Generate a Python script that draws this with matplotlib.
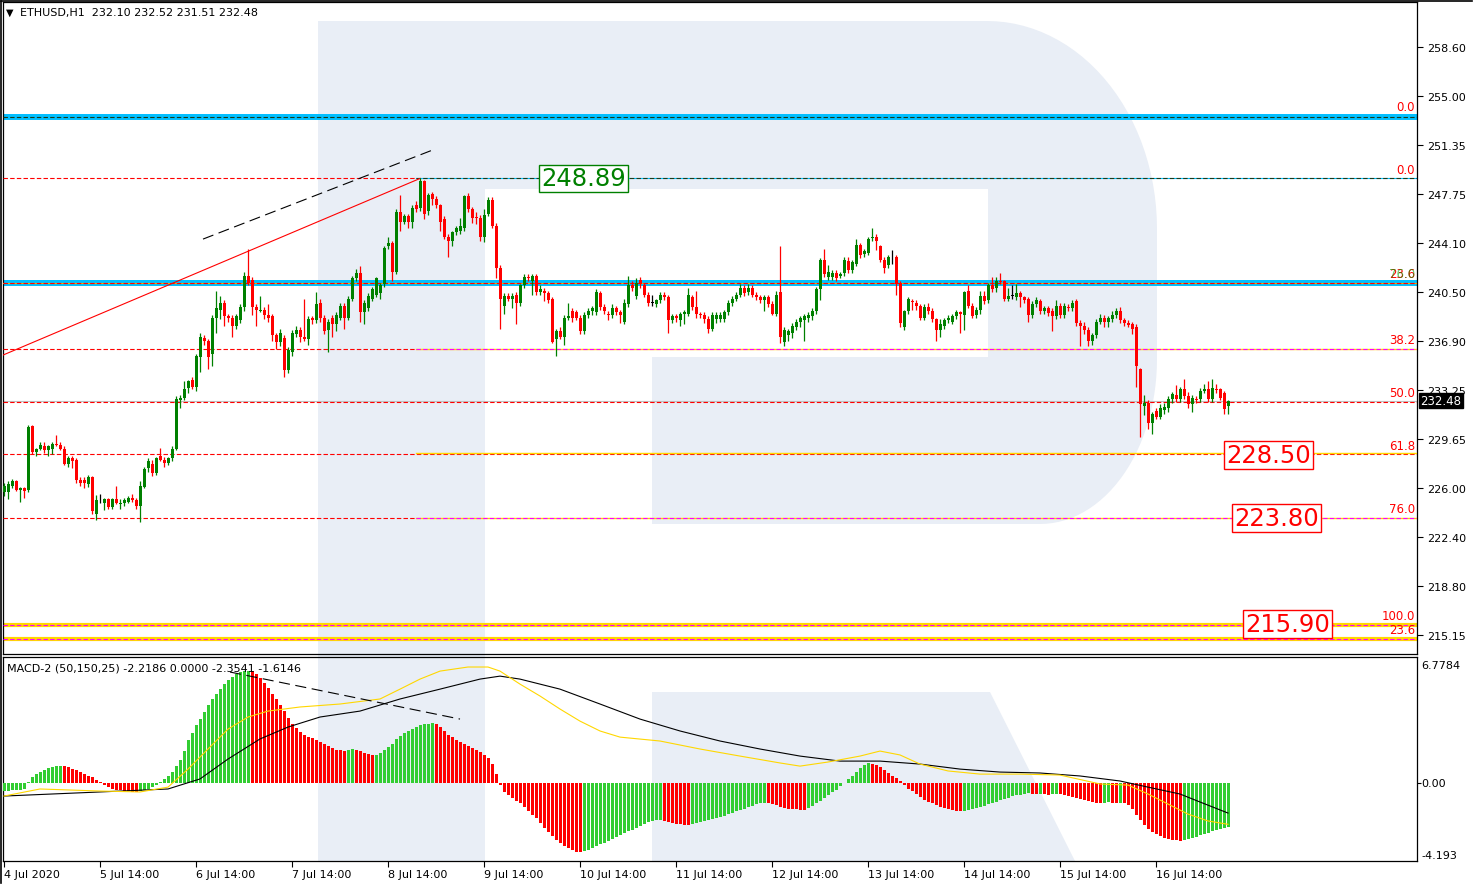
import matplotlib
matplotlib.use("Agg")
import matplotlib.pyplot as plt
import numpy as np

# ---------------- data ----------------
# hourly ETHUSD candles, bar 0 = first bar on the chart
opens = [
    225.7, 225.7, 226.2, 226.5, 225.9, 226.0, 225.9, 230.6, 228.7, 228.9,
    229.1, 228.8, 228.9, 229.3, 229.2, 228.9, 227.8, 228.2, 228.1, 226.6,
    226.6, 226.3, 226.8, 224.1, 225.1, 224.9, 225.2, 224.6, 225.2, 224.8,
    224.9, 225.0, 225.3, 225.1, 224.7, 226.1, 227.5, 227.8, 227.1, 228.4,
    228.1, 227.9, 228.2, 228.9, 232.5, 232.7, 233.4, 234.0, 233.5, 235.7,
    237.1, 236.9, 235.9, 238.6, 239.2, 239.7, 238.7, 238.6, 238.0, 238.4,
    239.4, 241.7, 241.4, 239.4, 239.1, 239.2, 238.8, 238.7, 237.3, 236.8,
    237.1, 234.7, 236.1, 237.4, 237.7, 237.2, 237.0, 238.6, 238.4, 239.7,
    238.6, 237.7, 238.6, 238.1, 238.6, 239.5, 238.6, 240.0, 241.5, 241.9,
    239.0, 239.3, 240.0, 240.3, 240.4, 241.1, 243.9, 244.1, 242.0, 246.4,
    245.7, 246.1, 245.7, 246.9, 246.7, 248.7, 246.5, 247.75, 247.4, 246.9,
    245.9, 244.6, 244.3, 244.9, 245.0, 245.2, 247.6, 246.6, 246.0, 246.0,
    244.6, 246.3, 247.3, 245.4, 242.3, 239.5, 240.2, 240.0, 240.3, 239.7,
    241.0, 241.6, 241.3, 241.7, 240.5, 240.6, 240.4, 240.0, 237.0, 237.6,
    237.2, 238.6, 239.1, 239.0, 238.6, 237.6, 238.8, 239.1, 239.0, 240.4,
    239.4, 238.9, 238.8, 239.3, 239.0, 238.3, 239.6, 241.0, 240.2, 241.4,
    241.0, 240.3, 239.7, 239.6, 239.9, 240.3, 240.1, 238.4, 238.7, 238.4,
    238.9, 238.9, 240.1, 239.4, 238.9, 238.8, 238.5, 237.8, 238.5, 238.5,
    238.5, 239.0, 239.7, 240.0, 240.3, 240.8, 240.5, 240.8, 240.3, 240.1,
    239.9, 240.1, 239.6, 238.9, 240.5, 236.8, 237.3, 237.5, 237.9, 238.3,
    238.4, 238.6, 238.7, 239.1, 240.7, 242.9, 241.6, 241.6, 241.9, 241.7,
    241.9, 242.8, 242.1, 242.6, 244.0, 243.3, 243.4, 244.5, 244.6, 243.9,
    242.9, 242.5, 243.2, 243.1, 241.2, 237.9, 239.1, 239.8, 239.7, 239.5,
    238.6, 239.4, 239.1, 238.5, 237.7, 238.0, 238.4, 238.3, 238.7, 239.0,
    238.8, 240.6, 239.5, 238.8, 239.2, 240.2, 239.9, 241.0, 240.8, 241.3,
    241.3, 240.0, 240.2, 240.1, 240.4, 240.1, 240.0, 238.8, 239.6, 239.8,
    239.1, 239.3, 239.1, 238.7, 239.5, 238.8, 239.4, 239.3, 239.8, 238.2,
    238.0, 237.7, 236.9, 237.3, 238.3, 238.6, 238.3, 238.5, 238.8, 239.1,
    238.4, 238.2, 238.1, 237.9, 234.8, 232.1, 232.3, 230.8, 231.7, 231.3,
    231.8, 231.9, 232.6, 232.9, 232.6, 233.3, 232.8, 232.2, 232.6, 232.6,
    233.2, 233.3, 232.6, 233.3, 233.3, 233.0, 232.10,
]
highs = [
    226.4, 226.5, 226.7, 226.6, 226.1, 226.1, 230.7, 230.7, 229.0, 229.4,
    229.4, 229.2, 229.4, 229.9, 229.4, 229.1, 228.4, 228.4, 228.2, 226.8,
    226.8, 227.0, 226.9, 225.5, 225.6, 225.3, 225.3, 225.3, 226.2, 225.2,
    225.3, 225.4, 225.6, 225.3, 226.5, 227.6, 228.2, 228.1, 228.3, 229.0,
    228.3, 228.3, 229.1, 232.8, 232.9, 233.9, 234.0, 234.2, 235.9, 237.5,
    237.3, 237.0, 238.8, 240.6, 240.2, 239.9, 238.9, 238.8, 238.9, 239.6,
    242.0, 243.7, 241.6, 239.6, 240.2, 239.4, 239.6, 238.9, 237.5, 237.8,
    237.3, 236.4, 237.7, 238.0, 237.9, 240.0, 238.7, 238.7, 240.5, 240.0,
    238.8, 238.5, 238.8, 239.0, 239.7, 239.7, 240.2, 241.7, 242.2, 242.4,
    239.9, 240.4, 240.9, 241.6, 241.2, 243.9, 244.6, 244.3, 246.6, 247.7,
    246.3, 246.3, 246.9, 247.2, 248.9, 248.8, 247.8, 247.9, 247.6, 247.0,
    246.1, 244.8, 245.0, 245.4, 246.0, 247.7, 247.8, 246.8, 246.4, 246.2,
    246.6, 247.5, 247.5, 245.6, 242.5, 240.4, 240.4, 240.4, 240.5, 241.1,
    241.8, 241.8, 241.8, 241.8, 241.0, 240.8, 240.6, 240.1, 237.8, 237.9,
    238.8, 239.7, 239.3, 239.2, 238.8, 239.0, 239.3, 239.5, 240.7, 240.6,
    239.6, 239.1, 239.6, 239.5, 239.2, 240.0, 241.7, 241.3, 241.5, 241.6,
    241.2, 240.5, 240.3, 240.0, 240.5, 240.5, 240.3, 238.9, 238.9, 239.0,
    239.2, 240.8, 240.3, 240.6, 239.0, 239.0, 238.7, 239.0, 239.0, 239.0,
    239.2, 239.9, 240.2, 240.5, 241.1, 241.0, 241.1, 241.0, 240.5, 240.3,
    240.3, 240.3, 239.8, 240.6, 243.9, 237.9, 237.8, 238.2, 238.5, 238.7,
    238.9, 239.0, 239.3, 240.9, 243.0, 243.7, 242.5, 242.1, 242.1, 242.0,
    243.1, 243.1, 242.9, 244.4, 244.1, 243.7, 244.6, 245.2, 244.8, 244.0,
    243.1, 243.2, 243.6, 243.2, 241.3, 239.2, 240.1, 240.0, 239.9, 239.6,
    239.6, 239.7, 239.3, 238.6, 238.5, 238.6, 238.8, 238.9, 239.2, 239.1,
    240.6, 241.0, 239.7, 239.4, 240.6, 240.6, 241.2, 241.6, 241.6, 241.9,
    241.4, 240.8, 241.0, 241.1, 240.6, 240.2, 240.1, 239.8, 240.1, 240.0,
    239.5, 239.5, 239.3, 239.9, 239.7, 239.7, 239.6, 239.9, 240.0, 238.4,
    238.3, 237.9, 237.5, 238.5, 238.9, 238.8, 238.7, 239.1, 239.3, 239.4,
    238.6, 238.4, 238.3, 238.1, 234.9, 232.9, 232.5, 231.6, 231.9, 232.2,
    232.3, 232.8, 233.1, 233.6, 233.5, 234.1, 233.1, 232.9, 232.8, 233.4,
    233.7, 233.9, 234.1, 233.7, 233.4, 233.2, 232.52,
]
lows = [
    225.4, 225.2, 226.0, 225.8, 225.0, 225.3, 225.7, 228.5, 228.4, 228.8,
    228.6, 228.4, 228.5, 229.1, 228.8, 227.7, 227.6, 227.5, 226.4, 226.2,
    226.0, 226.1, 224.1, 223.65, 224.9, 224.4, 224.5, 224.5, 224.8, 224.5,
    224.7, 224.9, 225.0, 224.5, 223.5, 226.0, 227.2, 226.9, 227.0, 228.0,
    227.6, 227.7, 228.0, 228.8, 231.9, 232.5, 233.0, 233.3, 233.2, 234.6,
    236.6, 234.8, 235.0, 237.5, 238.5, 238.0, 238.3, 237.2, 237.8, 238.2,
    239.1, 241.0, 238.8, 238.0, 239.0, 238.5, 238.3, 236.9, 236.3, 236.5,
    234.2, 234.5, 235.8, 237.2, 236.8, 236.9, 236.6, 238.1, 238.2, 238.3,
    237.4, 236.1, 237.2, 237.6, 238.4, 237.8, 238.4, 239.8, 241.3, 238.3,
    238.1, 239.1, 239.8, 240.1, 240.0, 240.9, 243.7, 241.3, 241.8, 245.0,
    245.5, 245.2, 245.2, 246.4, 246.5, 245.9, 246.2, 246.9, 246.7, 245.0,
    244.4, 243.1, 243.9, 244.7, 244.8, 245.0, 246.4, 245.6, 245.5, 244.3,
    244.2, 246.1, 245.2, 241.5, 237.8, 238.9, 239.8, 239.3, 238.1, 239.5,
    240.8, 241.3, 240.3, 240.3, 240.3, 239.8, 239.7, 236.7, 235.8, 237.0,
    236.6, 238.4, 238.3, 238.4, 237.4, 237.4, 238.6, 238.8, 238.8, 239.2,
    238.9, 238.4, 238.6, 238.8, 238.2, 238.1, 239.4, 240.6, 240.0, 240.8,
    240.1, 239.5, 239.5, 239.4, 239.7, 239.9, 237.5, 238.2, 238.3, 238.0,
    238.1, 238.7, 239.2, 238.6, 238.6, 238.2, 237.5, 237.6, 238.2, 238.3,
    238.3, 238.8, 239.5, 239.8, 240.1, 240.2, 240.3, 240.1, 239.9, 239.7,
    239.1, 239.4, 238.8, 238.7, 236.7, 236.5, 236.9, 237.1, 237.7, 237.9,
    236.9, 238.3, 238.4, 238.9, 239.9, 241.6, 241.4, 241.4, 241.3, 241.5,
    241.7, 241.9, 241.9, 242.4, 243.0, 243.1, 243.2, 244.3, 243.6, 242.7,
    241.9, 242.3, 242.6, 240.3, 237.9, 237.7, 238.9, 239.2, 239.2, 238.4,
    238.4, 238.9, 238.3, 236.9, 237.2, 237.8, 238.2, 238.1, 238.5, 237.5,
    237.7, 239.3, 238.6, 238.6, 238.9, 239.6, 239.7, 240.5, 240.5, 241.1,
    239.8, 239.8, 240.0, 239.9, 239.4, 239.7, 238.3, 238.6, 239.4, 238.9,
    238.9, 238.7, 237.6, 238.5, 238.6, 238.6, 239.1, 239.1, 238.0, 236.5,
    237.4, 236.5, 236.6, 237.1, 238.1, 237.9, 237.9, 238.3, 238.6, 238.2,
    238.0, 237.9, 237.4, 233.5, 229.8, 231.4, 230.4, 230.0, 231.1, 231.1,
    231.5, 231.6, 232.3, 232.4, 232.4, 232.6, 231.9, 231.6, 232.3, 232.4,
    233.0, 232.4, 232.4, 233.0, 232.5, 231.5, 231.51,
]
closes = [
    226.2, 226.3, 226.5, 225.9, 226.0, 225.8, 230.5, 228.7, 228.9, 229.2,
    228.8, 229.1, 229.3, 229.2, 228.9, 227.8, 228.2, 228.0, 226.6, 226.4,
    226.4, 226.8, 224.3, 225.1, 225.1, 225.2, 224.6, 225.2, 224.9, 224.9,
    225.1, 225.3, 225.1, 224.7, 226.2, 227.4, 228.0, 227.1, 228.2, 228.1,
    227.9, 228.2, 228.9, 232.6, 232.7, 233.3, 233.9, 233.5, 235.8, 237.2,
    236.9, 235.7, 238.6, 239.3, 239.7, 238.7, 238.6, 238.0, 238.7, 239.4,
    241.7, 241.2, 239.4, 239.2, 239.2, 238.8, 238.6, 237.3, 236.8, 237.5,
    234.7, 236.2, 237.5, 237.7, 237.2, 237.0, 238.5, 238.4, 239.6, 238.6,
    237.6, 238.3, 238.1, 238.8, 239.5, 238.6, 240.0, 241.5, 241.9, 239.0,
    239.7, 240.2, 240.7, 241.5, 241.0, 243.75, 244.1, 242.0, 246.4, 245.7,
    246.1, 245.7, 246.7, 246.6, 248.7, 246.3, 247.7, 247.4, 246.9, 245.7,
    244.6, 244.3, 244.9, 245.2, 245.4, 247.6, 246.6, 246.0, 245.95, 244.6,
    246.2, 247.3, 245.4, 242.3, 239.98, 240.2, 240.0, 240.2, 239.7, 241.0,
    241.6, 241.5, 241.7, 240.5, 240.7, 240.4, 239.9, 236.8, 237.6, 237.2,
    238.6, 238.7, 238.6, 238.6, 237.6, 238.8, 239.1, 239.3, 240.5, 239.4,
    239.1, 238.8, 239.3, 239.0, 238.8, 239.7, 241.0, 240.8, 241.2, 241.1,
    240.3, 239.7, 239.7, 239.9, 240.3, 240.1, 238.4, 238.7, 238.6, 238.9,
    239.0, 240.3, 239.4, 238.9, 238.8, 238.5, 237.8, 238.8, 238.8, 238.8,
    239.0, 239.7, 240.0, 240.3, 240.8, 240.4, 240.8, 240.3, 240.1, 239.9,
    240.1, 239.6, 238.9, 240.3, 237.2, 237.7, 237.6, 238.0, 238.3, 238.6,
    238.7, 238.8, 239.1, 240.7, 242.9, 241.8, 242.0, 241.9, 241.5, 241.85,
    242.9, 242.1, 242.7, 244.0, 243.2, 243.5, 244.4, 244.6, 244.3, 242.9,
    242.3, 243.1, 243.2, 241.1, 238.2, 239.1, 240.0, 239.75, 239.45, 238.6,
    239.4, 239.1, 238.5, 237.7, 238.1, 238.4, 238.6, 238.7, 239.0, 238.85,
    240.5, 239.5, 238.7, 239.2, 240.2, 239.8, 241.0, 240.7, 241.3, 241.25,
    240.0, 240.2, 240.2, 240.4, 240.1, 239.9, 238.8, 239.6, 239.9, 239.1,
    239.3, 238.95, 238.7, 239.5, 238.8, 239.5, 239.3, 239.7, 238.2, 238.0,
    237.7, 236.9, 237.3, 238.3, 238.6, 238.25, 238.6, 238.8, 239.1, 238.4,
    238.2, 238.05, 237.8, 235.0, 232.2, 232.3, 230.8, 231.5, 231.3, 231.9,
    232.0, 232.6, 232.95, 232.6, 233.3, 232.8, 232.2, 232.7, 232.55, 233.2,
    233.3, 232.6, 233.4, 233.25, 232.7, 231.85, 232.48,
]

# MACD-2 histogram, one value per bar
macd_hist = [
    -0.45, -0.42, -0.40, -0.38, -0.36, -0.33, 0.05, 0.30, 0.50, 0.62,
    0.72, 0.80, 0.86, 0.90, 0.93, 0.90, 0.85, 0.78, 0.70, 0.60,
    0.50, 0.40, 0.30, 0.15, 0.05, -0.10, -0.20, -0.30, -0.35, -0.40,
    -0.42, -0.45, -0.47, -0.50, -0.45, -0.40, -0.30, -0.20, -0.10, 0.05,
    0.20, 0.40, 0.60, 0.90, 1.25, 1.70, 2.30, 2.70, 3.10, 3.45,
    3.80, 4.20, 4.50, 4.80, 5.05, 5.30, 5.55, 5.70, 5.85, 5.95,
    6.00, 6.05, 6.00, 5.85, 5.65, 5.40, 5.10, 4.80, 4.50, 4.20,
    3.85, 3.50, 3.20, 2.95, 2.75, 2.60, 2.50, 2.40, 2.30, 2.20,
    2.10, 2.00, 1.90, 1.80, 1.75, 1.70, 1.75, 1.85, 1.80, 1.70,
    1.60, 1.55, 1.50, 1.52, 1.60, 1.80, 1.95, 2.10, 2.35, 2.55,
    2.70, 2.80, 2.90, 3.00, 3.10, 3.15, 3.20, 3.22, 3.15, 3.00,
    2.80, 2.60, 2.45, 2.30, 2.20, 2.10, 2.00, 1.90, 1.80, 1.65,
    1.50, 1.35, 1.00, 0.50, -0.10, -0.50, -0.65, -0.80, -0.95, -1.10,
    -1.30, -1.50, -1.70, -1.90, -2.15, -2.40, -2.65, -2.85, -3.05, -3.25,
    -3.40, -3.52, -3.62, -3.70, -3.72, -3.68, -3.60, -3.50, -3.40, -3.30,
    -3.20, -3.10, -3.00, -2.90, -2.80, -2.70, -2.60, -2.50, -2.40, -2.30,
    -2.20, -2.12, -2.05, -2.00, -1.97, -2.02, -2.10, -2.15, -2.20, -2.22,
    -2.24, -2.25, -2.20, -2.15, -2.10, -2.05, -2.00, -1.95, -1.90, -1.82,
    -1.75, -1.68, -1.60, -1.52, -1.45, -1.38, -1.30, -1.22, -1.15, -1.10,
    -1.08, -1.10, -1.15, -1.20, -1.30, -1.35, -1.38, -1.40, -1.42, -1.43,
    -1.44, -1.35, -1.25, -1.10, -0.95, -0.80, -0.65, -0.50, -0.35, -0.18,
    0.00, 0.20, 0.40, 0.60, 0.80, 0.95, 1.10, 1.05, 0.95, 0.85,
    0.70, 0.55, 0.40, 0.25, 0.10, -0.10, -0.30, -0.45, -0.60, -0.75,
    -0.90, -1.00, -1.10, -1.20, -1.28, -1.35, -1.40, -1.45, -1.48, -1.50,
    -1.48, -1.45, -1.40, -1.35, -1.30, -1.22, -1.15, -1.08, -1.00, -0.92,
    -0.85, -0.78, -0.72, -0.66, -0.62, -0.58, -0.55, -0.57, -0.60, -0.58,
    -0.60, -0.62, -0.60, -0.58, -0.60, -0.65, -0.70, -0.75, -0.80, -0.85,
    -0.90, -0.95, -1.00, -1.05, -1.08, -1.05, -1.02, -1.05, -1.08, -1.05,
    -1.10, -1.20, -1.40, -1.70, -2.00, -2.25, -2.45, -2.62, -2.75, -2.85,
    -2.93, -3.00, -3.05, -3.08, -3.10, -3.05, -3.00, -2.95, -2.90, -2.82,
    -2.75, -2.68, -2.60, -2.52, -2.46, -2.40, -2.3541,
]

# MACD-2 lines, vertices (bar index, value)
black_idx = [0, 24, 41, 49, 56, 64, 71, 79, 89, 99, 109, 119, 124, 129, 139, 149,
             159, 169, 179, 189, 199, 209, 219, 229, 239, 249, 259, 269, 279, 286,
             294, 299, 306]
black_val = [-0.70, -0.48, -0.32, 0.22, 1.29, 2.37, 3.01, 3.55, 3.87, 4.52, 5.05,
             5.59, 5.75, 5.59, 5.05, 4.25, 3.44, 2.80, 2.26, 1.83, 1.45, 1.18, 1.18,
             1.02, 0.75, 0.59, 0.54, 0.38, 0.11, -0.22, -0.59, -1.02, -1.6146]
yellow_idx = [0, 9, 24, 34, 41, 46, 51, 56, 61, 66, 74, 84, 94, 99, 104, 109, 116,
              121, 124, 129, 134, 139, 144, 149, 154, 164, 174, 184, 194, 199, 206,
              214, 219, 224, 229, 236, 244, 254, 264, 274, 281, 286, 291, 296, 301, 306]
yellow_val = [-0.70, -0.32, -0.43, -0.48, -0.22, 0.75, 1.83, 2.90, 3.55, 3.87, 4.09,
              4.25, 4.52, 5.05, 5.59, 6.02, 6.24, 6.24, 6.02, 5.32, 4.68, 3.98, 3.33,
              2.80, 2.47, 2.26, 1.83, 1.45, 1.08, 0.91, 1.13, 1.45, 1.72, 1.51, 1.02,
              0.65, 0.48, 0.48, 0.43, -0.05, -0.11, -0.59, -1.13, -1.67, -2.04, -2.2186]

# axis labels
price_ticks = [258.60, 255.00, 251.35, 247.75, 244.10, 240.50, 236.90, 233.25,
               229.65, 226.00, 222.40, 218.80, 215.15]
time_labels = ["4 Jul 2020", "5 Jul 14:00", "6 Jul 14:00", "7 Jul 14:00", "8 Jul 14:00",
               "9 Jul 14:00", "10 Jul 14:00", "11 Jul 14:00", "12 Jul 14:00",
               "13 Jul 14:00", "14 Jul 14:00", "15 Jul 14:00", "16 Jul 14:00"]

# fibonacci / support levels
fib_a_levels = [248.89, 236.29, 232.395, 228.50, 223.80]   # red dotted from the left
fib_a_names = ["0.0", "38.2", "50.0", "61.8", "76.0"]
last_price = 232.48

# ---------------- figure ----------------
W, H = 1474, 887
fig = plt.figure(figsize=(W / 100, H / 100), dpi=100)
fig.patch.set_facecolor("white")
plt.rcParams["font.family"] = ["DejaVu Sans"]

# watermark in pixel coordinates behind the chart
bg = fig.add_axes([0, 0, 1, 1], zorder=0)
bg.set_xlim(0, W)
bg.set_ylim(H, 0)
bg.axis("off")
wm = "#E9EEF6"
t1 = np.linspace(np.pi / 2, 0, 30)
t2 = np.linspace(0, -np.pi / 2, 30)
arc1 = np.c_[987 + 170 * np.cos(t1), 230 - 208 * np.sin(t1)]
arc2 = np.c_[1040 + 117 * np.cos(t2), 360 - 165 * np.sin(t2)]
outline = np.vstack([[[318, 22]], arc1, arc2,
                     [[652, 525], [652, 358], [988, 358], [988, 190], [485, 190],
                      [485, 862], [318, 862]]])
bg.fill(outline[:, 0], outline[:, 1], color=wm, lw=0)
bg.fill([652, 990, 1075, 652], [693, 693, 862, 862], color=wm, lw=0)
bg.plot([1, 1], [2, 884], color="black", lw=1.2)
bg.plot([1, 1472], [2, 2], color="black", lw=1.2)

# x of bar i: 4 + 4*i px; chart spans 3..1417 px
x0, x1 = -0.25, 353.25
ax = fig.add_axes([3 / W, (H - 655) / H, 1414 / W, 652 / H], zorder=2)
ax.patch.set_alpha(0)
ax.set_xlim(x0, x1)
ax.set_ylim(213.75, 261.93)

n = len(closes)
idx = np.arange(n)
o = np.array(opens)
c = np.array(closes)
hi = np.array(highs)
lo = np.array(lows)
col = np.where(c > o, "#008000", np.where(c < o, "#FF0000", "black"))

ax.vlines(idx, lo, hi, colors=col, lw=0.9, zorder=5)
ax.bar(idx, np.maximum(np.abs(c - o), 0.06), bottom=np.minimum(o, c), width=0.75,
       color=col, lw=0, zorder=6)

# horizontal levels
full = [x0, x1]
right = [103, x1]
left = [x0, 103]
ax.plot(full, [253.43] * 2, color="#00BFFF", lw=4.3, zorder=2)
ax.plot(full, [253.43] * 2, color="#1a3a1a", lw=0.8, dashes=(4, 2), zorder=3)
ax.plot(full, [241.16] * 2, color="#00BFFF", lw=4.3, zorder=2)
ax.plot(full, [241.16] * 2, color="#FFA500", lw=0.8, zorder=3)
ax.plot(full, [241.16] * 2, color="#FF0000", lw=0.8, dashes=(4, 2), zorder=3)
for lvl in [215.90, 214.86]:
    ax.plot(full, [lvl] * 2, color="#FFD700", lw=3.0, zorder=2)
    ax.plot(full, [lvl] * 2, color="#FF00FF", lw=0.8, dashes=(4, 2), zorder=3)

ax.plot(full, [last_price] * 2, color="#C0C0C0", lw=0.8, zorder=2)
for lvl in fib_a_levels:
    if lvl in (232.395, 228.50):
        ax.plot(full, [lvl] * 2, color="#FF0000", lw=0.8, dashes=(4, 2), zorder=3)
    else:
        ax.plot(left, [lvl] * 2, color="#FF0000", lw=0.8, dashes=(4, 2), zorder=3)
ax.plot(right, [248.89] * 2, color="#00BFFF", lw=0.8, zorder=3)
ax.plot(right, [248.89] * 2, color="#1a3a1a", lw=0.8, dashes=(4, 2), zorder=3)
for lvl in [236.29, 223.80, 228.60]:
    ax.plot(right, [lvl] * 2, color="#FFD700", lw=1.0, zorder=3)
for lvl in [236.29, 223.80]:
    ax.plot(right, [lvl] * 2, color="#FF00FF", lw=0.8, dashes=(4, 2), zorder=3)

# level captions at the right edge
cap = dict(ha="right", va="bottom", fontsize=8.5, color="#FF0000", zorder=8)
ax.text(352.8, 253.7, "0.0", **cap)
ax.text(352.8, 249.1, "0.0", **cap)
ax.text(352.8, 241.4, "23.6", **cap)
ax.text(352.8, 241.4, "76.0", ha="right", va="bottom", fontsize=8.5, color="#00A000",
        alpha=0.6, zorder=8)
for lvl, name in zip(fib_a_levels[1:], fib_a_names[1:]):
    ax.text(352.8, lvl + 0.2, name, **cap)
ax.text(352.8, 216.1, "100.0", **cap)
ax.text(352.8, 215.1, "23.6", **cap)

# trend lines
ax.plot([x0, 104], [235.84, 248.89], color="#FF0000", lw=0.8, zorder=4)
ax.plot([49.75, 107.75], [244.41, 251.06], color="black", lw=0.8, dashes=(10, 5), zorder=4)

# boxed price captions
box = dict(boxstyle="square,pad=0.08", fc="white", lw=1)
ax.text(134.3, 248.89, "248.89", fontsize=17.5, color="#008000", ha="left", va="center",
        bbox=dict(box, ec="#008000"), zorder=9)
ax.text(305.5, 228.45, "228.50", fontsize=17.5, color="#FF0000", ha="left", va="center",
        bbox=dict(box, ec="#FF0000"), zorder=9)
ax.text(307.5, 223.80, "223.80", fontsize=17.5, color="#FF0000", ha="left", va="center",
        bbox=dict(box, ec="#FF0000"), zorder=9)
ax.text(310.3, 215.95, "215.90", fontsize=17.5, color="#FF0000", ha="left", va="center",
        bbox=dict(box, ec="#FF0000"), zorder=9)

# price axis on the right
ax.yaxis.tick_right()
ax.set_yticks(price_ticks)
ax.set_yticklabels([f"{p:.2f}" for p in price_ticks], fontsize=8)
ax.tick_params(axis="y", direction="out", length=4, width=0.8, pad=3)
ax.set_xticks([])
for s in ax.spines.values():
    s.set_linewidth(0.9)
ax.text(1.0025, last_price, f"{last_price:.2f}", transform=ax.get_yaxis_transform(),
        fontsize=8.5, color="white", va="center", ha="left",
        bbox=dict(boxstyle="square,pad=0.12", fc="black", ec="black"), zorder=10,
        clip_on=False)

fig.text(6 / W, 1 - 13 / H, "\u25bc", fontsize=7, va="center", ha="left")
fig.text(20 / W, 1 - 13 / H, "ETHUSD,H1  232.10 232.52 231.51 232.48", fontsize=8,
         va="center", ha="left")

# ---------------- MACD panel ----------------
mx = fig.add_axes([3 / W, (H - 862) / H, 1414 / W, 204 / H], zorder=2)
mx.patch.set_alpha(0)
mx.set_xlim(x0, x1)
mx.set_ylim(-4.193, 6.7784)
hv = np.array(macd_hist)
rising = np.r_[True, hv[1:] >= hv[:-1]]
mx.bar(idx, hv, width=0.75, color=np.where(rising, "#32CD32", "#FF0000"), lw=0, zorder=3)
mx.plot(black_idx, black_val, color="black", lw=0.8, zorder=4)
mx.plot(yellow_idx, yellow_val, color="#FFD700", lw=0.8, zorder=4)
mx.plot([56.5, 114], [5.97, 3.44], color="black", lw=0.8, dashes=(10, 5), zorder=4)

mx.yaxis.tick_right()
mx.set_yticks([0])
mx.set_yticklabels([])
mx.tick_params(axis="y", direction="out", length=3, width=0.8)
mx.text(1.003, 6.35, "6.7784", transform=mx.get_yaxis_transform(), fontsize=8,
        va="center", ha="left", clip_on=False)
mx.text(1.003, 0, "0.00", transform=mx.get_yaxis_transform(), fontsize=8,
        va="center", ha="left", clip_on=False)
mx.text(1.003, -3.85, "-4.193", transform=mx.get_yaxis_transform(), fontsize=8,
        va="center", ha="left", clip_on=False)
mx.set_xticks(np.arange(len(time_labels)) * 24)
mx.set_xticklabels(time_labels, fontsize=8, ha="left")
mx.tick_params(axis="x", direction="out", length=4, width=0.8, pad=2)
for s in mx.spines.values():
    s.set_linewidth(0.9)
mx.text(0.003, 0.95, "MACD-2 (50,150,25) -2.2186 0.0000 -2.3541 -1.6146",
        transform=mx.transAxes, fontsize=8, va="center", ha="left")

fig.savefig("out.png", dpi=100)
